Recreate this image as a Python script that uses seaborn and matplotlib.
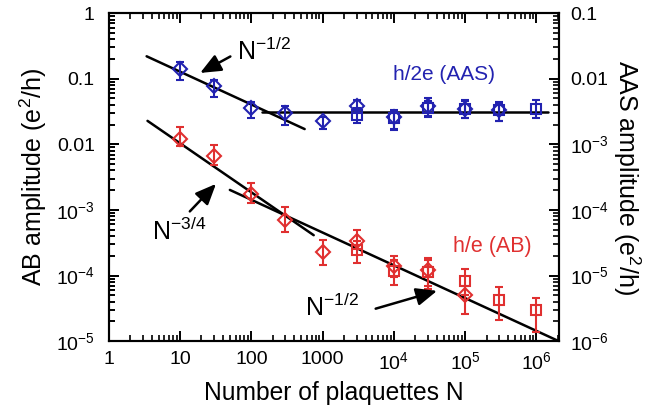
import numpy as np
import matplotlib
matplotlib.use("Agg")
import matplotlib.pyplot as plt
import seaborn as sns

# AAS (h/2e), right axis units e^2/h
aas_dia_n = [10, 30, 100, 300, 1000, 3000, 1e4, 3e4, 1e5, 3e5]
aas_dia = [0.014, 0.0077, 0.0036, 0.0030, 0.0023, 0.0038, 0.0026, 0.0038, 0.0035, 0.0033]
aas_dia_lo = [0.0097, 0.0053, 0.0025, 0.0020, 0.0017, 0.0030, 0.00165, 0.0026, 0.0025, 0.0023]
aas_dia_hi = [0.018, 0.0095, 0.0044, 0.0038, 0.0026, 0.0047, 0.0033, 0.0050, 0.0047, 0.0044]
aas_sq_n = [3000, 1e4, 3e4, 1e5, 3e5, 1e6]
aas_sq = [0.0028, 0.0025, 0.0036, 0.0034, 0.0033, 0.0035]
aas_sq_lo = [0.0021, 0.0017, 0.0027, 0.0025, 0.0023, 0.0025]
aas_sq_hi = [0.0036, 0.0032, 0.0046, 0.0045, 0.0043, 0.0047]

# AB (h/e), left axis units e^2/h
ab_dia_n = [10, 30, 100, 300, 1000, 3000, 1e4, 3e4, 1e5]
ab_dia = [0.0119, 0.0066, 0.00172, 7.0e-4, 2.3e-4, 3.4e-4, 1.39e-4, 1.23e-4, 5.0e-5]
ab_dia_lo = [0.0094, 0.0048, 0.00126, 4.6e-4, 1.44e-4, 2.5e-4, 9.5e-5, 6.3e-5, 2.6e-5]
ab_dia_hi = [0.0181, 0.0097, 0.00259, 1.11e-3, 3.47e-4, 4.9e-4, 2.0e-4, 1.85e-4, 7.0e-5]
ab_sq_n = [3000, 1e4, 3e4, 1e5, 3e5, 1e6]
ab_sq = [2.45e-4, 1.18e-4, 1.15e-4, 8.3e-5, 4.2e-5, 2.97e-5]
ab_sq_lo = [1.53e-4, 7.1e-5, 7.0e-5, 5.0e-5, 2.1e-5, 1.38e-5]
ab_sq_hi = [3.4e-4, 1.7e-4, 1.7e-4, 1.28e-4, 6.8e-5, 4.5e-5]

# fitted power laws, endpoints
fit_aas_n = [3.4, 560]
fit_aas = [0.022, 0.00171]
flat_aas_n = [140, 1.45e6]
flat_aas = [0.00306, 0.00306]
fit_ab34_n = [3.5, 750]
fit_ab34 = [0.0228, 4.12e-4]
fit_ab12_n = [50, 2.05e6]
fit_ab12 = [2.02e-3, 1.0e-5]

x_ticks = [1, 10, 100, 1000, 1e4, 1e5, 1e6]
x_labels = ['1', '10', '100', '1000', r'$\mathregular{10^{4}}$',
            r'$\mathregular{10^{5}}$', r'$\mathregular{10^{6}}$']
yl_ticks = [1, 0.1, 0.01, 1e-3, 1e-4, 1e-5]
yl_labels = ['1', '0.1', '0.01', r'$\mathregular{10^{-3}}$',
             r'$\mathregular{10^{-4}}$', r'$\mathregular{10^{-5}}$']
yr_ticks = [0.1, 0.01, 1e-3, 1e-4, 1e-5, 1e-6]
yr_labels = ['0.1', '0.01', r'$\mathregular{10^{-3}}$', r'$\mathregular{10^{-4}}$',
             r'$\mathregular{10^{-5}}$', r'$\mathregular{10^{-6}}$']

BLUE = '#2222b0'
RED = '#e03030'

sns.set_theme(style='ticks')
plt.rcParams['font.family'] = ['Liberation Sans', 'DejaVu Sans']
plt.rcParams['mathtext.fontset'] = 'custom'
plt.rcParams['mathtext.rm'] = 'Liberation Sans'
plt.rcParams['mathtext.it'] = 'Liberation Sans:italic'
plt.rcParams['text.color'] = 'black'
plt.rcParams['axes.labelcolor'] = 'black'
plt.rcParams['axes.axisbelow'] = False
for a_ in ('xtick', 'ytick'):
    plt.rcParams[a_ + '.direction'] = 'in'
    plt.rcParams[a_ + '.color'] = 'black'
    plt.rcParams[a_ + '.labelcolor'] = 'black'
    plt.rcParams[a_ + '.major.size'] = 7
    plt.rcParams[a_ + '.major.width'] = 1.4
    plt.rcParams[a_ + '.minor.size'] = 4
    plt.rcParams[a_ + '.minor.width'] = 1.2
    plt.rcParams[a_ + '.labelsize'] = 14
plt.rcParams['xtick.top'] = True

fig, ax = plt.subplots(figsize=(6.55, 4.11), dpi=100)
fig.subplots_adjust(left=0.166, right=0.853, top=0.968, bottom=0.170)
ax2 = ax.twinx()

ax.set_xscale('log')
ax.set_yscale('log')
ax2.set_yscale('log')


def err(ax_, n, v, lo, hi, marker, ms, color):
    v = np.array(v)
    yerr = [v - np.array(lo), np.array(hi) - v]
    ax_.errorbar(n, v, yerr=yerr, fmt=marker, ms=ms, mfc='none', mec=color,
                 mew=1.5, ecolor=color, elinewidth=1.5, capsize=3, capthick=1.5,
                 zorder=3)


err(ax2, aas_sq_n, aas_sq, aas_sq_lo, aas_sq_hi, 's', 6.5, BLUE)
err(ax2, aas_dia_n, aas_dia, aas_dia_lo, aas_dia_hi, 'D', 7.5, BLUE)
err(ax, ab_sq_n, ab_sq, ab_sq_lo, ab_sq_hi, 's', 6.5, RED)
err(ax, ab_dia_n, ab_dia, ab_dia_lo, ab_dia_hi, 'D', 7.5, RED)

sns.lineplot(x=fit_aas_n, y=fit_aas, ax=ax2, color='black', lw=1.8)
sns.lineplot(x=flat_aas_n, y=flat_aas, ax=ax2, color='black', lw=1.8)
sns.lineplot(x=fit_ab34_n, y=fit_ab34, ax=ax, color='black', lw=1.8)
sns.lineplot(x=fit_ab12_n, y=fit_ab12, ax=ax, color='black', lw=1.8)

ax.set_xlim(1, 2.05e6)
ax.set_ylim(1e-5, 1)
ax2.set_ylim(1e-6, 0.1)

# minor ticks at 2..9 of every decade
def minors(lo_exp, hi_exp):
    return [m * 10.0 ** e for e in range(lo_exp, hi_exp) for m in range(2, 10)]

ax.set_xticks(x_ticks, x_labels)
ax.set_xticks([v for v in minors(0, 7) if v <= 2.05e6], minor=True)
ax.set_yticks(yl_ticks, yl_labels)
ax.set_yticks(minors(-5, 0), minor=True)
ax2.set_yticks(yr_ticks, yr_labels)
ax2.set_yticks(minors(-6, -1), minor=True)

ax.tick_params(which='both', direction='in', top=True, right=False)
ax.tick_params(axis='x', which='major', pad=7)
ax.tick_params(axis='y', which='major', pad=10)
ax2.tick_params(which='both', direction='in')
ax2.tick_params(which='major', pad=8)

# make sure every tick mark is drawn
for axis_ in (ax.xaxis, ax.yaxis, ax2.yaxis):
    for t in axis_.get_major_ticks() + axis_.get_minor_ticks():
        t.tick1line.set_visible(True)
        t.tick1line.set_color('black')
for t in ax.xaxis.get_major_ticks() + ax.xaxis.get_minor_ticks():
    t.tick2line.set_visible(True)
    t.tick2line.set_color('black')

# left axes drawn on top so its ticks are not hidden by the twin
ax.set_zorder(ax2.get_zorder() + 1)
ax.patch.set_visible(False)

for a in (ax, ax2):
    for s in a.spines.values():
        s.set_linewidth(1.5)
        s.set_color('black')

ax.set_xlabel('Number of plaquettes N', fontsize=17.7, labelpad=6)
ax.set_ylabel(r'AB amplitude (e$\mathregular{^{2}}$/h)', fontsize=18, labelpad=5)
ax2.set_ylabel(r'AAS amplitude (e$\mathregular{^{2}}$/h)', fontsize=18,
               rotation=270, labelpad=24)

arrow = dict(arrowstyle='-|>,head_length=0.7,head_width=0.3', color='black',
             lw=1.8, mutation_scale=18)
ax.text(64, 0.19, r'N$\mathregular{^{-1/2}}$', fontsize=18, ha='left', va='baseline')
ax.annotate('', xy=(17.7, 0.117), xytext=(55, 0.229), arrowprops=arrow)
ax.text(4.1, 3.5e-4, r'N$\mathregular{^{-3/4}}$', fontsize=18, ha='left', va='baseline')
ax.annotate('', xy=(34, 2.68e-3), xytext=(12.9, 8.85e-4), arrowprops=arrow)
ax.text(560, 2.4e-5, r'N$\mathregular{^{-1/2}}$', fontsize=18, ha='left', va='baseline')
ax.annotate('', xy=(43900, 6.0e-5), xytext=(5090, 3.04e-5), arrowprops=arrow)

ax.text(5.07e4, 0.1155, 'h/2e (AAS)', fontsize=15, color=BLUE, ha='center', va='center')
ax.text(2.43e5, 2.8e-4, 'h/e (AB)', fontsize=15.5, color=RED, ha='center', va='center')

fig.savefig('out.png', dpi=100)
